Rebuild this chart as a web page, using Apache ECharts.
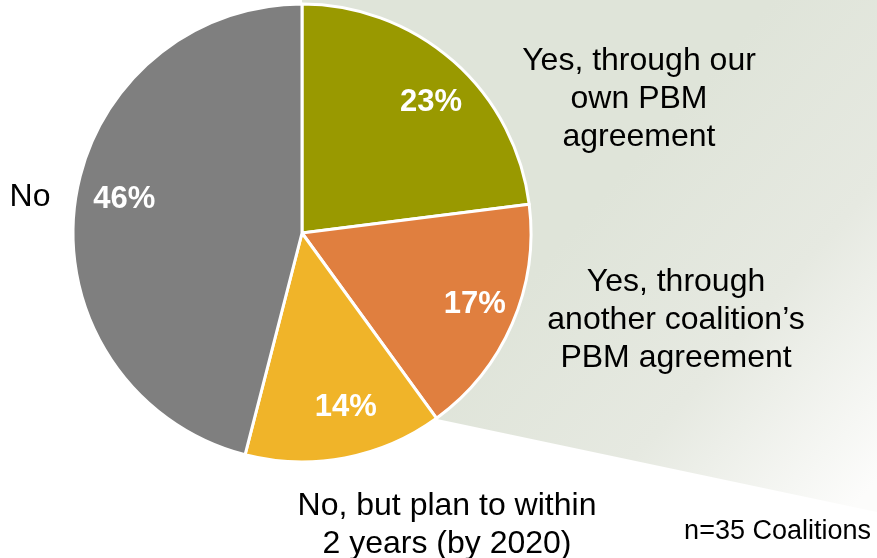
<!DOCTYPE html>
<html>
<head>
<meta charset="utf-8">
<script src="https://cdn.jsdelivr.net/npm/echarts@6/dist/echarts.min.js"></script>
<style>
  html, body { margin: 0; padding: 0; background: #fff; }
  #chart { width: 877px; height: 558px; }
</style>
</head>
<body>
<div id="chart"></div>
<script>
// data
const categories = [
  'Yes, through our\nown PBM\nagreement',
  'Yes, through\nanother coalition\u2019s\nPBM agreement',
  'No, but plan to within\n2 years (by 2020)',
  'No'
]
const values = [23, 17, 14, 46]
const colors = ['#999900', '#e07f3f', '#f0b429', '#7f7f7f']
const note = 'n=35 Coalitions'

// where the category names sit (label centres)
const labelPos = [
  { x: 639, y: 99 },
  { x: 676, y: 320 },
  { x: 447, y: 525 },
  { x: 30, y: 197 }
]
// small nudges for the percent labels
const pctNudge = [[6, 9], [2, -2], [9, -8], [7, -10]]

const CX = 302
const CY = 233
const R = 229

const chart = echarts.init(document.getElementById('chart'))

const option = {
  animation: false,
  backgroundColor: '#fff',
  graphic: [
    {
      // soft shadow wedge behind the pie
      type: 'polygon',
      z: -1,
      silent: true,
      shape: {
        points: [[CX, 0], [877, 0], [877, 512], [437, 419], [CX, CY]]
      },
      style: {
        fill: new echarts.graphic.LinearGradient(580, 220, 877, 480, [
          { offset: 0, color: '#dfe4d9' },
          { offset: 0.5, color: '#e6e9e1' },
          { offset: 1, color: '#fcfcfb' }
        ], true)
      }
    },
    {
      type: 'text',
      right: 6,
      top: 518,
      style: {
        text: note,
        font: '27px "Liberation Sans", Arial, sans-serif',
        fill: '#000'
      }
    }
  ],
  series: [
    {
      type: 'pie',
      center: [CX, CY],
      radius: R,
      startAngle: 90,
      clockwise: true,
      avoidLabelOverlap: false,
      data: categories.map((name, i) => ({
        name,
        value: values[i],
        itemStyle: { color: colors[i] }
      })),
      itemStyle: { borderColor: '#fff', borderWidth: 3 },
      label: {
        show: true,
        position: 'outside',
        formatter: '{b}',
        color: '#000',
        fontFamily: '"Liberation Sans", Arial, sans-serif',
        fontSize: 32,
        lineHeight: 38,
        align: 'center',
        overflow: 'none'
      },
      labelLine: { show: false, length: 0, length2: 0 },
      labelLayout: (params) => {
        const p = labelPos[params.dataIndex]
        return { x: p.x, y: p.y, align: 'center', verticalAlign: 'middle' }
      },
      emphasis: { disabled: true }
    },
    {
      // transparent ring just to place the percent labels at ~0.8 R
      type: 'pie',
      center: [CX, CY],
      radius: [R * 0.6, R],
      startAngle: 90,
      clockwise: true,
      silent: true,
      avoidLabelOverlap: false,
      data: categories.map((name, i) => ({
        name,
        value: values[i],
        itemStyle: { color: 'rgba(0,0,0,0)' },
        label: { offset: pctNudge[i] }
      })),
      label: {
        show: true,
        position: 'inside',
        formatter: (p) => p.value + '%',
        color: '#fff',
        fontFamily: '"Liberation Sans", Arial, sans-serif',
        fontWeight: 'bold',
        fontSize: 31
      },
      labelLine: { show: false },
      emphasis: { disabled: true }
    }
  ]
}

chart.setOption(option)
</script>
</body>
</html>
